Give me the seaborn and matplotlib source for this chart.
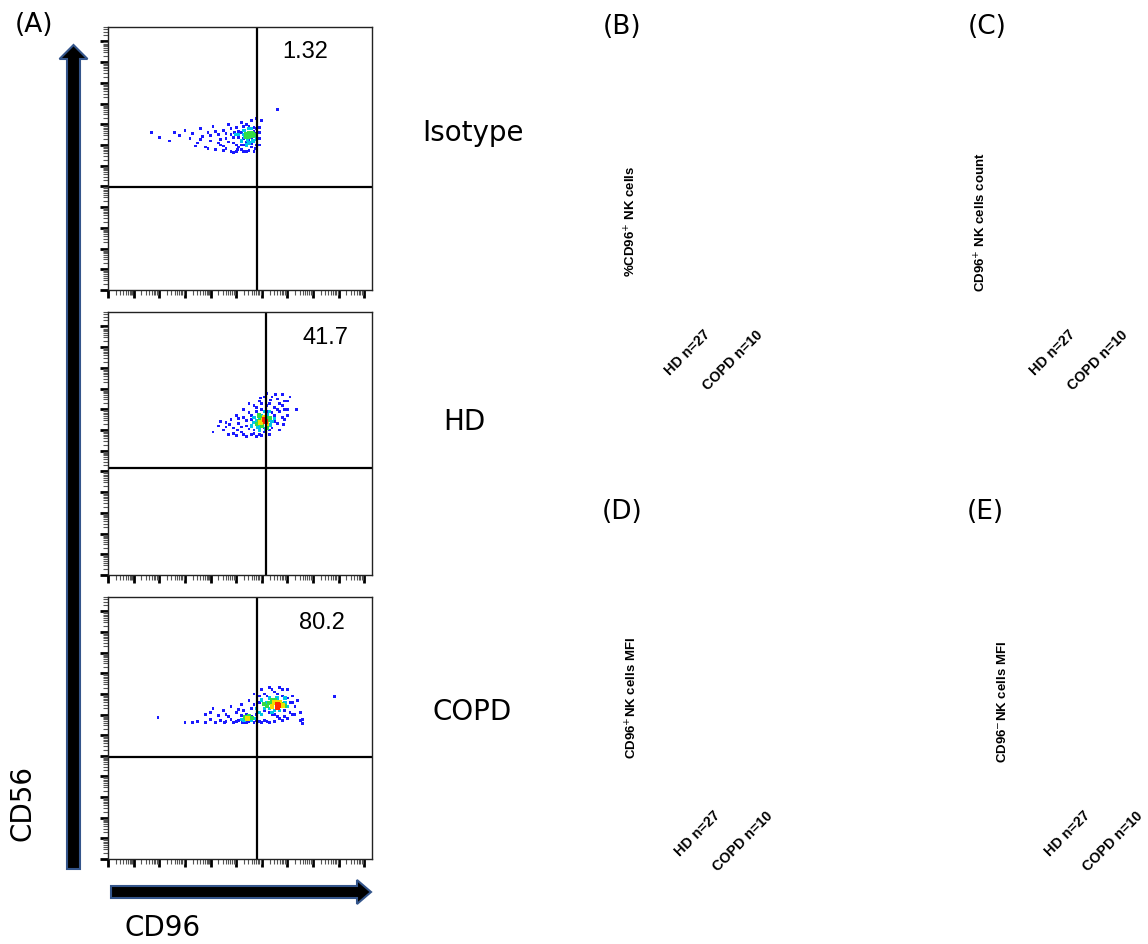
import pandas as pd
import matplotlib.pyplot as plt
import seaborn as sns
from matplotlib.patches import FancyArrow
from matplotlib.ticker import LogLocator, NullFormatter

W, H = 1148, 944

# panel A: flow plots, positions in decades (log10) of CD96 / CD56
samples = ["Isotype", "HD", "COPD"]
quadrant_pct = ["1.32", "41.7", "80.2"]
gate_cd96 = [5.8, 6.15, 5.8]
gate_cd56 = [4.98, 5.17, 4.93]

iso_blue = [(1.7, 7.6), (2.0, 7.35), (2.4, 7.2), (2.6, 7.6), (2.8, 7.45), (3.0, 7.7), (3.2, 7.3),
            (3.3, 7.55), (3.5, 7.1), (3.6, 7.8), (3.7, 7.4), (3.8, 6.9), (3.9, 7.6), (4.0, 7.2),
            (4.1, 7.9), (4.2, 6.8), (4.3, 7.5), (4.4, 7.0), (4.5, 7.7), (4.5, 6.75), (4.6, 7.3),
            (4.7, 8.0), (4.8, 6.7), (4.8, 7.5), (4.9, 7.1), (5.0, 7.85), (5.0, 6.7), (5.1, 7.35),
            (5.1, 6.9), (5.2, 8.1), (5.2, 7.6), (5.3, 6.7), (5.3, 7.0), (5.4, 8.0), (5.5, 6.75),
            (5.5, 7.9), (5.6, 6.9), (5.6, 8.2), (5.7, 7.2), (5.7, 6.7), (5.8, 7.8), (5.8, 8.3),
            (5.9, 7.0), (5.9, 7.6), (6.0, 8.2), (6.6, 8.7), (4.6, 6.85), (4.9, 6.65), (5.4, 6.68),
            (3.4, 6.95), (4.0, 7.45), (4.2, 7.65), (4.4, 7.25), (4.6, 7.55), (4.7, 7.15),
            (4.8, 7.8), (4.9, 7.35), (5.0, 7.0), (5.1, 7.65), (5.2, 6.8), (5.3, 7.3), (5.3, 7.9),
            (5.4, 7.15), (5.5, 7.25), (5.6, 7.05), (5.6, 7.35), (5.7, 7.85), (5.7, 7.65),
            (5.8, 7.0), (5.8, 7.55), (5.9, 7.3), (5.9, 7.85), (5.2, 7.0), (4.95, 7.6), (4.5, 6.95),
            (4.3, 7.1), (3.9, 6.85), (3.6, 7.25), (5.05, 6.8), (5.75, 6.85)]
iso_cyan = [(5.0, 7.5), (5.2, 7.2), (5.3, 7.7), (5.5, 7.1), (5.6, 7.8), (5.4, 7.0), (5.8, 7.3),
            (5.1, 7.5), (5.3, 7.5), (5.45, 7.25), (5.65, 7.2), (5.75, 7.4), (5.35, 7.35), (5.5, 7.8)]
iso_green = [(5.4, 7.4), (5.5, 7.6), (5.6, 7.45), (5.7, 7.5), (5.4, 7.55), (5.5, 7.4), (5.6, 7.6),
             (5.45, 7.5), (5.65, 7.55), (5.55, 7.5)]

hd_blue = [(4.1, 6.9), (4.3, 7.2), (4.5, 7.0), (4.6, 7.35), (4.7, 6.8), (4.8, 7.5), (4.9, 7.1),
           (5.0, 6.75), (5.0, 7.7), (5.1, 7.3), (5.2, 6.9), (5.3, 7.6), (5.3, 8.0), (5.4, 6.7),
           (5.4, 7.2), (5.5, 7.85), (5.6, 6.8), (5.6, 7.5), (5.7, 8.2), (5.7, 7.0), (5.8, 6.7),
           (5.8, 7.9), (5.9, 8.4), (6.0, 6.75), (6.0, 8.0), (6.1, 8.6), (6.1, 6.9), (6.2, 7.9),
           (6.3, 8.3), (6.3, 6.8), (6.4, 8.6), (6.4, 7.1), (6.5, 7.7), (6.5, 8.1), (6.6, 8.5),
           (6.6, 7.3), (6.7, 7.0), (6.7, 7.9), (6.8, 8.7), (6.8, 8.2), (6.9, 7.5), (6.9, 8.0),
           (7.0, 8.4), (7.0, 7.7), (7.1, 8.6), (7.35, 8.0), (6.2, 8.75), (5.5, 8.3), (4.4, 7.4),
           (4.6, 7.15), (4.9, 6.85), (5.1, 7.55), (5.2, 7.15), (5.3, 6.8), (5.4, 7.45), (5.5, 7.05),
           (5.6, 7.7), (5.7, 6.85), (5.8, 8.1), (5.9, 6.8), (6.0, 8.3), (6.1, 7.1), (6.2, 8.2),
           (6.3, 7.0), (6.4, 7.85), (6.5, 7.4), (6.6, 8.0), (6.7, 8.3), (6.8, 7.6), (6.9, 8.4),
           (7.0, 8.0), (6.55, 8.7), (5.95, 8.55), (6.35, 8.45), (5.05, 7.0), (4.75, 7.25),
           (6.85, 7.25)]
hd_cyan = [(5.6, 7.2), (5.7, 7.6), (5.9, 7.0), (6.1, 7.9), (6.3, 7.9), (5.8, 7.45), (6.4, 7.4),
           (5.7, 7.35), (5.9, 7.55), (6.0, 7.7), (6.2, 7.75), (6.35, 7.25), (6.5, 7.55),
           (5.85, 7.15), (6.15, 7.05)]
hd_green = [(5.8, 7.3), (5.9, 7.7), (6.0, 7.2), (6.2, 7.1), (6.3, 7.6), (6.0, 7.5), (6.05, 7.6),
            (6.25, 7.5), (5.9, 7.45)]
hd_yellow = [(5.95, 7.35), (6.1, 7.6), (6.2, 7.3), (6.05, 7.45)]
hd_red = [(6.15, 7.42), (6.1, 7.5)]

copd_blue = [(1.95, 6.86), (3.0, 6.6), (3.3, 6.6), (3.5, 6.65), (3.8, 6.6), (3.8, 7.0), (4.0, 6.75),
             (4.2, 6.6), (4.3, 6.95), (4.5, 7.2), (4.6, 6.65), (4.7, 6.9), (4.8, 7.4), (4.9, 6.6),
             (5.0, 7.1), (5.1, 6.7), (5.2, 7.5), (5.3, 6.6), (5.4, 7.0), (5.5, 7.7), (5.5, 6.65),
             (5.6, 7.3), (5.7, 6.6), (5.7, 8.0), (5.8, 7.0), (5.9, 6.65), (5.9, 7.6), (6.0, 8.2),
             (6.1, 6.7), (6.1, 7.2), (6.2, 7.9), (6.3, 6.6), (6.3, 8.3), (6.4, 7.0), (6.5, 6.65),
             (6.5, 8.1), (6.6, 6.9), (6.7, 8.3), (6.8, 6.7), (6.8, 7.9), (6.9, 7.2), (7.0, 8.2),
             (7.0, 6.8), (7.1, 7.6), (7.2, 7.9), (7.2, 7.0), (7.3, 7.4), (7.4, 7.7), (7.5, 6.7),
             (7.6, 6.55), (7.5, 7.1), (8.83, 7.87), (4.1, 7.3), (5.2, 6.95), (4.0, 7.1), (4.4, 6.7),
             (4.6, 7.0), (4.8, 6.75), (5.0, 6.65), (5.1, 7.25), (5.3, 7.2), (5.4, 6.6), (5.6, 6.9),
             (5.7, 7.5), (5.8, 6.7), (6.0, 6.6), (6.1, 8.0), (6.2, 6.65), (6.4, 8.2), (6.5, 7.0),
             (6.6, 8.0), (6.7, 6.8), (6.8, 8.2), (6.9, 6.9), (7.0, 7.8), (7.1, 7.1), (7.2, 7.6),
             (7.3, 7.0), (6.3, 7.1), (5.9, 7.9), (4.55, 6.6), (5.25, 6.6), (7.6, 6.75)]
copd_cyan = [(5.2, 6.75), (5.6, 6.7), (5.8, 7.3), (6.0, 7.0), (6.0, 7.7), (6.4, 7.1), (6.7, 7.2),
             (6.9, 7.8), (7.0, 7.4), (6.3, 7.8), (5.3, 6.7), (5.7, 6.8), (5.9, 7.1), (6.1, 7.3),
             (6.3, 7.3), (6.5, 7.2), (6.9, 7.6), (6.6, 7.8), (6.2, 7.6), (5.55, 6.75)]
copd_green = [(5.4, 6.85), (5.5, 6.95), (5.35, 6.9), (6.2, 7.4), (6.5, 7.7), (6.8, 7.5), (6.1, 7.5),
              (6.3, 7.55), (6.9, 7.4), (6.4, 7.7), (5.6, 6.85)]
copd_yellow = [(6.4, 7.4), (6.5, 7.6), (6.7, 7.6), (6.8, 7.45), (5.45, 6.8)]
copd_red = [(6.6, 7.5), (6.65, 7.45), (6.6, 7.35)]

# panels B-E (no data points drawn in the source)
panel_letters = ["(B)", "(C)", "(D)", "(E)"]
panel_ylabels = [r"%CD96$^{+}$ NK cells", r"CD96$^{+}$ NK cells count",
                 r"CD96$^{+}$NK cells MFI", r"CD96$^{-}$NK cells MFI"]
groups = ["HD n=27", "COPD n=10"]

level_colors = {"blue": "#1a1aff", "cyan": "#00c4e8", "green": "#33dd44",
                "yellow": "#f0e000", "red": "#ff2a00"}
level_sizes = {"blue": 4, "cyan": 6, "green": 9, "yellow": 11, "red": 14}


def make_df(**levels):
    rows = []
    for level, pts in levels.items():
        for x, y in pts:
            rows.append({"cd96": 10 ** x, "cd56": 10 ** y, "level": level})
    return pd.DataFrame(rows)


flow_data = [
    make_df(blue=iso_blue, cyan=iso_cyan, green=iso_green),
    make_df(blue=hd_blue, cyan=hd_cyan, green=hd_green, yellow=hd_yellow, red=hd_red),
    make_df(blue=copd_blue, cyan=copd_cyan, green=copd_green, yellow=copd_yellow, red=copd_red),
]


def rect(x0, y0, x1, y1):
    return [x0 / W, 1 - y1 / H, (x1 - x0) / W, (y1 - y0) / H]


sns.set_style("white")
plt.rcParams["font.family"] = ["DejaVu Sans"]
plt.rcParams["text.color"] = "black"
plt.rcParams["axes.labelcolor"] = "black"
plt.rcParams["xtick.color"] = "black"
plt.rcParams["ytick.color"] = "black"

fig = plt.figure(figsize=(W / 100, H / 100), dpi=100)

# overlay for arrows and free text, in pixel units
over = fig.add_axes([0, 0, 1, 1])
over.set_xlim(0, W)
over.set_ylim(H, 0)
over.axis("off")

over.add_patch(FancyArrow(73.5, 869, 0, 45 - 869, width=13, head_width=28, head_length=14,
                          length_includes_head=True, fc="black", ec="#34558b", lw=1.5))
over.add_patch(FancyArrow(111, 892, 371 - 111, 0, width=12, head_width=24, head_length=14,
                          length_includes_head=True, fc="black", ec="#34558b", lw=1.5))
over.text(22, 803, "CD56", rotation=90, fontsize=20, ha="center", va="center")
over.text(163, 928, "CD96", fontsize=20, ha="center", va="center")
over.text(34, 25, "(A)", fontsize=19, ha="center", va="center")

flow_boxes = [(108, 27, 372, 290), (108, 312, 372, 575), (108, 597, 372, 859)]
label_pos = [(473, 133), (464, 422), (472, 712)]
pct_pos = [(0.746, 0.905), (0.822, 0.901), (0.811, 0.90)]

for i in range(3):
    ax = fig.add_axes(rect(*flow_boxes[i]))
    ax.set_xscale("log")
    ax.set_yscale("log")
    sns.scatterplot(data=flow_data[i], x="cd96", y="cd56", hue="level", palette=level_colors,
                    size="level", sizes=level_sizes, marker="s", linewidth=0,
                    legend=False, ax=ax)
    ax.set_xlim(1, 10 ** 10.3)
    ax.set_ylim(1, 10 ** 12.7)
    ax.axvline(10 ** gate_cd96[i], color="black", lw=1.6)
    ax.axhline(10 ** gate_cd56[i], color="black", lw=1.6)
    for axis in (ax.xaxis, ax.yaxis):
        axis.set_major_locator(LogLocator(base=10, numticks=50))
        axis.set_minor_locator(LogLocator(base=10, subs=range(2, 10), numticks=50))
        axis.set_major_formatter(NullFormatter())
        axis.set_minor_formatter(NullFormatter())
    ax.tick_params(which="major", direction="out", length=6, width=2, color="black",
                   left=True, bottom=True)
    ax.tick_params(which="minor", direction="out", length=3.5, width=0.8, color="#555555",
                   left=True, bottom=True)
    for sp in ax.spines.values():
        sp.set_color("#222222")
        sp.set_linewidth(1)
    ax.set_xlabel("")
    ax.set_ylabel("")
    ax.text(pct_pos[i][0], pct_pos[i][1], quadrant_pct[i], transform=ax.transAxes,
            fontsize=17, family="Liberation Sans", ha="center", va="center")
    over.text(label_pos[i][0], label_pos[i][1], samples[i], fontsize=20,
              ha="center", va="center")

# panels B-E
tick0 = [713, 1078, 723, 1093]
axis_bottom = [322, 322, 803, 803]
ylabel_pos = [(631, 221), (981, 222), (632, 698), (1002, 702)]
letter_pos = [(622, 27), (987, 27), (622, 512), (985, 512)]
step = 52

for i in range(4):
    left = tick0[i] - 60
    top = 2 * ylabel_pos[i][1] - axis_bottom[i]
    ax = fig.add_axes(rect(left, top, left + 120, axis_bottom[i]))
    ax.set_xlim(-60 / step, 60 / step)
    ax.set_ylim(0, 1)
    ax.set_xticks([0, 1])
    ax.set_xticklabels(groups, rotation=45, ha="right", fontsize=10.3,
                       fontweight="bold", family="Liberation Sans")
    ax.set_yticks([])
    ax.tick_params(length=0, pad=4)
    sns.despine(ax=ax, left=True, bottom=True)
    ax.set_ylabel(panel_ylabels[i], fontsize=9.5, fontweight="bold",
                  family="Liberation Sans", va="center")
    ax.yaxis.set_label_coords((ylabel_pos[i][0] - left) / 120, 0.5)
    ax.patch.set_alpha(0)
    over.text(letter_pos[i][0], letter_pos[i][1], panel_letters[i], fontsize=19,
              ha="center", va="center")

fig.savefig("out.png", dpi=100)
